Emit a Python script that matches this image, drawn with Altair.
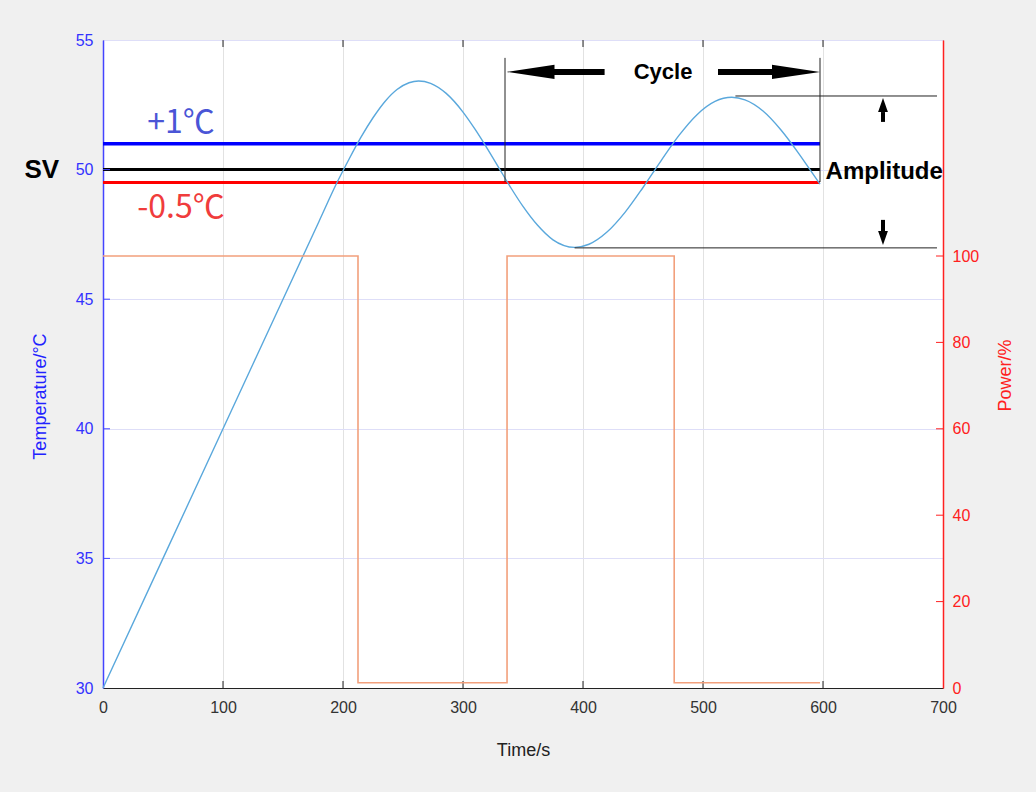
import altair as alt
import pandas as pd

# ---- data ----
time_s = [0, 50, 100, 150, 180, 195, 205, 215, 225, 235, 245, 255, 263, 273, 286,
          300, 310, 320, 330, 340, 350, 362, 375, 393, 405, 420, 435, 450, 465, 480,
          495, 510, 524, 535, 550, 565, 580, 590, 597.5]
temp_c = [30, 35, 40, 45, 48, 49.5, 50.4, 51.25, 52.0, 52.63, 53.09, 53.35, 53.42, 53.33, 52.94,
          52.22, 51.56, 50.83, 50.06, 49.29, 48.58, 47.86, 47.29, 47.0, 47.12, 47.59, 48.35,
          49.31, 50.34, 51.32, 52.12, 52.63, 52.79, 52.69, 52.26, 51.53, 50.61, 49.94, 49.44]

power_t = [0, 212.5, 336.7, 476, 597.5]
power_v = [100, 1.2, 100, 1.2, 1.2]

# setpoint band lines
sp_vals = [51, 50, 49.5]
sp_colors = ["#0000ff", "#000000", "#ff0000"]
sp_widths = [3.5, 3, 3]
sp_end = 597.5

# labels for band
band_text = ["+1℃", "-0.5℃"]
band_t = [65, 65]
band_temp = [51.8, 48.5]
band_colors = ["#4a55d6", "#f03c3c"]

# bold annotation texts
bold_text = ["SV", "Cycle", "Amplitude"]
bold_t = [-51, 466.7, 651]
bold_temp = [50.0, 53.77, 49.9]
bold_size = [26, 22, 24]

# cycle / amplitude guide lines (x, x2, y, y2)
guide_x = [335, 597.5, 527, 393]
guide_x2 = [335, 597.5, 695, 695]
guide_y = [54.31, 54.31, 52.84, 46.98]
guide_y2 = [49.52, 49.52, 52.84, 46.98]

# arrow shafts
shaft_x = [356, 512.5, 650, 650]
shaft_x2 = [418, 563, 650, 650]
shaft_y = [53.77, 53.77, 52.22, 48.06]
shaft_y2 = [53.77, 53.77, 51.84, 47.59]
shaft_w = [6, 6, 4, 4]

# arrow heads
head_t = [356.25, 577.5, 650, 650]
head_temp = [53.77, 53.77, 52.49, 47.36]
head_shape = ["M-1,0L1,-0.3L1,0.3Z", "M1,0L-1,-0.3L-1,0.3Z",
              "M0,-1L0.7,1L-0.7,1Z", "M0,1L0.7,-1L-0.7,-1Z"]
head_size = [2304, 2304, 196, 196]

x_ticks = [0, 100, 200, 300, 400, 500, 600, 700]
temp_ticks = [30, 35, 40, 45, 50, 55]
power_ticks = [0, 20, 40, 60, 80, 100]

FONT = "Liberation Sans"
W, H = 840, 648
TICK = 7

x_scale = alt.Scale(domain=[0, 700], nice=False)
temp_scale = alt.Scale(domain=[30, 55], nice=False, zero=False)
power_scale = alt.Scale(domain=[0, 150], nice=False)

x_axis = alt.Axis(values=x_ticks, title="Time/s", grid=True, gridColor="#e2e2e2",
                  domainColor="#222222", labelColor="#333333", labelFont=FONT,
                  labelFontSize=16, tickSize=0, labelPadding=11, labelFlush=False,
                  titleFont=FONT, titleFontSize=18, titleFontWeight="normal",
                  titleColor="#222222", titleY=62, titleBaseline="middle")
left_axis = alt.Axis(values=temp_ticks, title="Temperature/°C", grid=True, gridColor="#dedef8",
                     domainColor="#4444ff", domainWidth=1.5, labelColor="#3333ff",
                     labelFont=FONT, labelFontSize=16, tickSize=0, labelPadding=10,
                     labelFlush=False, titleFont=FONT, titleFontSize=18,
                     titleFontWeight="normal", titleColor="#2222ff", titleAngle=270,
                     titleX=-63, titleY=356, titleAlign="center", titleBaseline="middle")
right_axis = alt.Axis(values=power_ticks, title="Power/%", orient="right", grid=False,
                      domainColor="#ff2020", domainWidth=1.5, labelColor="#ff2020",
                      labelFont=FONT, labelFontSize=16, tickSize=0, labelPadding=9,
                      labelFlush=False, titleFont=FONT, titleFontSize=18,
                      titleFontWeight="normal", titleColor="#ff2020", titleAngle=270,
                      titleX=62, titleY=335, titleAlign="center", titleBaseline="middle")

temp_df = pd.DataFrame({"t": time_s, "temp": temp_c})
power_df = pd.DataFrame({"t": power_t, "p": power_v})
sp_df = pd.DataFrame({"y": sp_vals, "c": sp_colors, "w": sp_widths,
                      "x0": [0] * len(sp_vals), "x1": [sp_end] * len(sp_vals)})
band_df = pd.DataFrame({"t": band_t, "temp": band_temp, "txt": band_text, "c": band_colors})
bold_df = pd.DataFrame({"t": bold_t, "temp": bold_temp, "txt": bold_text, "s": bold_size})
guide_df = pd.DataFrame({"x": guide_x, "x2": guide_x2, "y": guide_y, "y2": guide_y2})
shaft_df = pd.DataFrame({"x": shaft_x, "x2": shaft_x2, "y": shaft_y, "y2": shaft_y2, "w": shaft_w})
head_df = pd.DataFrame({"t": head_t, "temp": head_temp, "sh": head_shape, "s": head_size})
xt_df = pd.DataFrame({"v": x_ticks[1:-1]})
tt_df = pd.DataFrame({"v": temp_ticks[1:-1]})
pt_df = pd.DataFrame({"v": power_ticks[1:]})

X = lambda f: alt.X(f, scale=x_scale, axis=x_axis)
Y = lambda f: alt.Y(f, scale=temp_scale, axis=left_axis)

sp_lines = alt.Chart(sp_df).mark_rule().encode(
    x=X("x0:Q"), x2="x1:Q", y=Y("y:Q"),
    color=alt.Color("c:N", scale=None),
    strokeWidth=alt.StrokeWidth("w:Q", scale=None))

temp_line = alt.Chart(temp_df).mark_line(color="#5aa8dc", strokeWidth=1.4,
                                         interpolate="monotone").encode(
    x=X("t:Q"), y=Y("temp:Q"))

guides = alt.Chart(guide_df).mark_rule(color="#222222", strokeWidth=1).encode(
    x=X("x:Q"), x2="x2:Q", y=Y("y:Q"), y2="y2:Q")

shafts = alt.Chart(shaft_df).mark_rule(color="#000000").encode(
    x=X("x:Q"), x2="x2:Q", y=Y("y:Q"), y2="y2:Q",
    strokeWidth=alt.StrokeWidth("w:Q", scale=None))

heads = alt.Chart(head_df).mark_point(filled=True, opacity=1, color="#000000",
                                      strokeWidth=0).encode(
    x=X("t:Q"), y=Y("temp:Q"),
    shape=alt.Shape("sh:N", scale=None),
    size=alt.Size("s:Q", scale=None))

band_labels = alt.Chart(band_df).mark_text(font="Noto Sans CJK SC", fontSize=32,
                                           baseline="middle", align="center").encode(
    x=X("t:Q"), y=Y("temp:Q"), text="txt:N",
    color=alt.Color("c:N", scale=None))

bold_labels = alt.Chart(bold_df).mark_text(font=FONT, fontWeight="bold", color="#000000",
                                           baseline="middle", align="center").encode(
    x=X("t:Q"), y=Y("temp:Q"), text="txt:N",
    size=alt.Size("s:Q", scale=None))

# inward tick marks (MATLAB style)
x_ticks_bottom = alt.Chart(xt_df).mark_rule(color="#222222", strokeWidth=1).encode(
    x=X("v:Q"), y=alt.value(H), y2=alt.value(H - TICK))
x_ticks_top = alt.Chart(xt_df).mark_rule(color="#222222", strokeWidth=1).encode(
    x=X("v:Q"), y=alt.value(0), y2=alt.value(TICK))
left_ticks = alt.Chart(tt_df).mark_rule(color="#4444ff", strokeWidth=1).encode(
    y=Y("v:Q"), x=alt.value(0), x2=alt.value(TICK))

temp_group = alt.layer(sp_lines, temp_line, guides, shafts, heads, band_labels, bold_labels,
                       x_ticks_bottom, x_ticks_top, left_ticks)

power_line = alt.Chart(power_df).mark_line(color="#f2a07c", strokeWidth=1.6,
                                           interpolate="step-after").encode(
    x=X("t:Q"),
    y=alt.Y("p:Q", scale=power_scale, axis=right_axis))
right_ticks = alt.Chart(pt_df).mark_rule(color="#ff2020", strokeWidth=1).encode(
    y=alt.Y("v:Q", scale=power_scale, axis=right_axis), x=alt.value(W), x2=alt.value(W - TICK))

power_group = alt.layer(power_line, right_ticks)

chart = alt.layer(temp_group, power_group).resolve_scale(y="independent").properties(
    width=W, height=H,
    autosize=alt.AutoSizeParams(type="none"),
    padding={"left": 103, "top": 40, "right": 93, "bottom": 104},
    background="#f0f0f0",
).configure_view(fill="#ffffff", stroke="#222222", strokeWidth=1)

chart.save("out.html", embed_options={"renderer": "svg", "actions": False})
